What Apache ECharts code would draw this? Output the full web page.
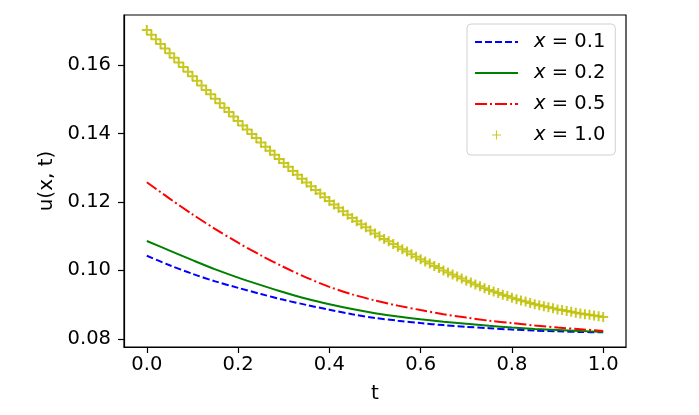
<!DOCTYPE html>
<html>
<head>
<meta charset="utf-8">
<script src="https://cdn.jsdelivr.net/npm/echarts@6/dist/echarts.min.js"></script>
<style>
  html, body { margin: 0; padding: 0; background: #fff; }
  #chart { width: 699px; height: 415px; }
</style>
</head>
<body>
<div id="chart"></div>
<script>
// time grid of the three line curves
var tLine = [0, 0.05, 0.1, 0.15, 0.2, 0.25, 0.3, 0.35, 0.4, 0.45, 0.5,
             0.55, 0.6, 0.65, 0.7, 0.75, 0.8, 0.85, 0.9, 0.95, 1.0];

var uX01 = [0.1043, 0.1015, 0.0990, 0.0968, 0.0949, 0.0931, 0.0914, 0.0899, 0.0885, 0.0872, 0.0861,
            0.0853, 0.0846, 0.0840, 0.0835, 0.0831, 0.0827, 0.0824, 0.0822, 0.0820, 0.0819];
var uX02 = [0.1086, 0.1058, 0.1030, 0.1003, 0.0979, 0.0957, 0.0936, 0.0917, 0.0901, 0.0887, 0.0875,
            0.0865, 0.0857, 0.0850, 0.0844, 0.0838, 0.0833, 0.0829, 0.0826, 0.0823, 0.0820];
var uX05 = [0.1258, 0.1210, 0.1164, 0.1121, 0.1081, 0.1044, 0.1010, 0.0979, 0.0952, 0.0930, 0.0912,
            0.0897, 0.0884, 0.0872, 0.0862, 0.0853, 0.0846, 0.0839, 0.0833, 0.0828, 0.0823];

// x = 1.0 is drawn with '+' markers, one every 0.01 in t
var uX10 = [0.1703, 0.1689, 0.1676, 0.1662, 0.1649, 0.1635, 0.1622, 0.1608, 0.1595, 0.1581,
            0.1568, 0.1555, 0.1541, 0.1528, 0.1515, 0.1502, 0.1489, 0.1476, 0.1463, 0.1450,
            0.1437, 0.1424, 0.1412, 0.1399, 0.1387, 0.1374, 0.1362, 0.1350, 0.1338, 0.1326,
            0.1314, 0.1303, 0.1291, 0.1280, 0.1268, 0.1257, 0.1246, 0.1235, 0.1225, 0.1214,
            0.1203, 0.1193, 0.1183, 0.1173, 0.1163, 0.1153, 0.1144, 0.1135, 0.1126, 0.1117,
            0.1108, 0.1100, 0.1092, 0.1085, 0.1077, 0.1069, 0.1062, 0.1055, 0.1047, 0.1040,
            0.1033, 0.1026, 0.1020, 0.1013, 0.1007, 0.1000, 0.0994, 0.0988, 0.0982, 0.0976,
            0.0970, 0.0965, 0.0959, 0.0954, 0.0948, 0.0943, 0.0938, 0.0934, 0.0929, 0.0925,
            0.0920, 0.0916, 0.0912, 0.0909, 0.0905, 0.0901, 0.0898, 0.0895, 0.0892, 0.0889,
            0.0886, 0.0884, 0.0881, 0.0879, 0.0876, 0.0874, 0.0872, 0.0870, 0.0868, 0.0866,
            0.0864];
var tFine = uX10.map(function (v, i) { return i / 100; });

var xTicks = [0, 0.2, 0.4, 0.6, 0.8, 1.0];
var yTicks = [0.08, 0.10, 0.12, 0.14, 0.16];

function pairs(ts, us) {
  return ts.map(function (t, i) { return [t, us[i]]; });
}

var font = 'DejaVu Sans';
var plus = 'path://M4,0H6V10H4Z M0,4H10V6H0Z';
var plusThin = 'path://M4.4,0H5.6V10H4.4Z M0,4.4H10V5.6H0Z';

var option = {
  animation: false,
  grid: {
    left: 124, right: 73, top: 15, bottom: 68,
    show: true, borderColor: '#000', borderWidth: 1.2, backgroundColor: 'transparent'
  },
  legend: {
    left: 467, top: 24,
    orient: 'vertical',
    itemWidth: 43, itemHeight: 9, itemGap: 11,
    padding: [8, 10, 10, 7],
    backgroundColor: 'rgba(255,255,255,0.8)',
    borderColor: '#d0d0d0', borderWidth: 1, borderRadius: 4,
    textStyle: {
      fontFamily: font, fontSize: 19.5, color: '#000', padding: [0, 0, 0, 11],
      rich: { i: { fontFamily: font, fontStyle: 'italic', fontSize: 19.5, color: '#000' } }
    },
    formatter: function (name) {
      return '{i|x} = ' + name.slice(4);
    },
    data: [
      { name: 'x = 0.1', itemStyle: { opacity: 0 } },
      { name: 'x = 0.2', itemStyle: { opacity: 0 } },
      { name: 'x = 0.5', itemStyle: { opacity: 0 } },
      { name: 'x = 1.0', icon: plusThin }
    ]
  },
  xAxis: {
    type: 'value', min: -0.05, max: 1.05,
    name: 't', nameLocation: 'middle', nameGap: 37,
    nameTextStyle: { fontFamily: font, fontSize: 20, color: '#000' },
    axisLine: { show: true, onZero: false, lineStyle: { color: '#000', width: 1.2 } },
    axisTick: { show: true, inside: false, length: 6, customValues: xTicks, lineStyle: { color: '#000', width: 1.2 } },
    axisLabel: {
      customValues: xTicks, margin: 8, fontFamily: font, fontSize: 19.5, color: '#000',
      formatter: function (v) { return v.toFixed(1); }
    },
    splitLine: { show: false }
  },
  yAxis: {
    type: 'value', min: 0.0776, max: 0.1747,
    name: 'u(x, t)', nameLocation: 'middle', nameGap: 61, nameRotate: 90,
    nameTextStyle: { fontFamily: font, fontSize: 20, color: '#000' },
    axisLine: { show: true, onZero: false, lineStyle: { color: '#000', width: 1.2 } },
    axisTick: { show: true, inside: false, length: 6, customValues: yTicks, lineStyle: { color: '#000', width: 1.2 } },
    axisLabel: {
      customValues: yTicks, margin: 13, fontFamily: font, fontSize: 19.5, color: '#000',
      formatter: function (v) { return v.toFixed(2); }
    },
    splitLine: { show: false }
  },
  series: [
    {
      name: 'x = 0.1', type: 'line', smooth: 0.3, symbol: 'none',
      data: pairs(tLine, uX01),
      lineStyle: { color: '#0000ff', width: 2, type: [7, 3] },
      itemStyle: { color: '#0000ff' }
    },
    {
      name: 'x = 0.2', type: 'line', smooth: 0.3, symbol: 'none',
      data: pairs(tLine, uX02),
      lineStyle: { color: '#008000', width: 2 },
      itemStyle: { color: '#008000' }
    },
    {
      name: 'x = 0.5', type: 'line', smooth: 0.3, symbol: 'none',
      data: pairs(tLine, uX05),
      lineStyle: { color: '#ff0000', width: 2, type: [12, 3, 2, 3] },
      itemStyle: { color: '#ff0000' }
    },
    {
      name: 'x = 1.0', type: 'scatter', symbol: plus, symbolSize: 10,
      data: pairs(tFine, uX10),
      itemStyle: { color: '#bfbf00', opacity: 0.85 }
    }
  ]
};

var myChart = echarts.init(document.getElementById('chart'));
myChart.setOption(option);
</script>
</body>
</html>
